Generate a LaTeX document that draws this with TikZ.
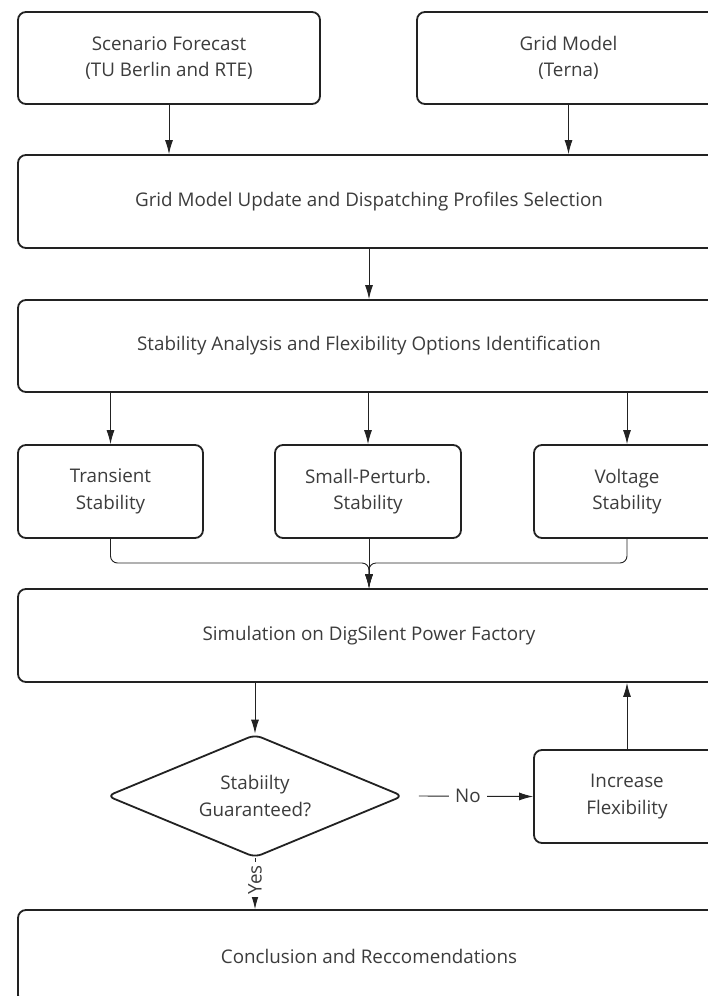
\documentclass[tikz,border=0pt]{standalone}
\usepackage{fontspec}
\setmainfont{Open Sans}
\usetikzlibrary{shapes.geometric,arrows.meta}
\definecolor{txt}{HTML}{3C3C3C}
\definecolor{bd}{HTML}{222222}
\tikzset{
  box/.style={draw=bd, line width=1.8pt, rounded corners=8pt, fill=white, align=center,
    text=txt, font=\fontsize{18.8}{26.5}\selectfont, inner sep=0pt},
  dec/.style={draw=bd, line width=1.8pt, shape=diamond, rounded corners=7pt, fill=white, align=center,
    text=txt, font=\fontsize{18.8}{26.5}\selectfont, inner sep=0pt, aspect=2.4},
  conn/.style={draw=bd, line width=0.9pt},
  arr/.style={conn, -{Latex[length=14pt,width=8pt]}},
  lbl/.style={fill=white, text=txt, font=\fontsize{18.8}{22}\selectfont, inner sep=6pt}
}
\begin{document}
\begin{tikzpicture}[x=1pt,y=-1pt]
\useasboundingbox (0,0) rectangle (708,996);
\fill[white] (0,0) rectangle (708,996);
\clip (0,0) rectangle (708,996);
\node[box, minimum width=302pt, minimum height=92pt] (sf) at (169,58) {Scenario Forecast\\(TU Berlin and RTE)};
\node[box, minimum width=303pt, minimum height=92pt] (gm) at (568.5,58) {Grid Model\\(Terna)};
\node[box, minimum width=702pt, minimum height=93pt] (upd) at (369,201.5) {Grid Model Update and Dispatching Profiles Selection};
\node[box, minimum width=702pt, minimum height=92pt] (stab) at (369,346) {Stability Analysis and Flexibility Options Identification};
\node[box, minimum width=185pt, minimum height=93pt] (tr) at (110.5,491.5) {Transient\\Stability};
\node[box, minimum width=186pt, minimum height=93pt] (sp) at (368,491.5) {Small-Perturb.\\Stability};
\node[box, minimum width=186pt, minimum height=93pt] (vs) at (627,491.5) {Voltage\\Stability};
\node[box, minimum width=702pt, minimum height=93pt] (sim) at (369,635.5) {Simulation on DigSilent Power Factory};
\node[dec, minimum width=296pt, minimum height=123pt] (dia) at (255,796) {Stabiilty\\Guaranteed?};
\node[box, minimum width=186pt, minimum height=93pt] (inc) at (627,796.5) {Increase\\Flexibility};
\node[box, minimum width=702pt, minimum height=93pt] (con) at (369,956.5) {Conclusion and Reccomendations};

\draw[arr] (sf.south) -- (sf.south |- upd.north);
\draw[arr] (gm.south) -- (gm.south |- upd.north);
\draw[arr] (upd.south) -- (stab.north);
\draw[arr] (tr.north |- stab.south) -- (tr.north);
\draw[arr] (sp.north |- stab.south) -- (sp.north);
\draw[arr] (vs.north |- stab.south) -- (vs.north);
\coordinate (m) at (369,563);
\draw[arr, rounded corners=7pt] (tr.south) |- (m) -- (m |- sim.north);
\draw[arr, rounded corners=7pt] (vs.south) |- (m) -- (m |- sim.north);
\draw[arr] (sp.south -| m) -- (m |- sim.north);
\draw[arr] (sim.south -| dia.north) -- (dia.north);
\draw[arr] (inc.north) -- (inc.north |- sim.south);
\draw[arr] ([xshift=15pt]dia.east) -- node[lbl, pos=0.43] {No} (inc.west);
\draw[arr] (dia.south) -- node[lbl, rotate=90, pos=0.42, inner sep=3pt] {Yes} (dia.south |- con.north);
\end{tikzpicture}
\end{document}
